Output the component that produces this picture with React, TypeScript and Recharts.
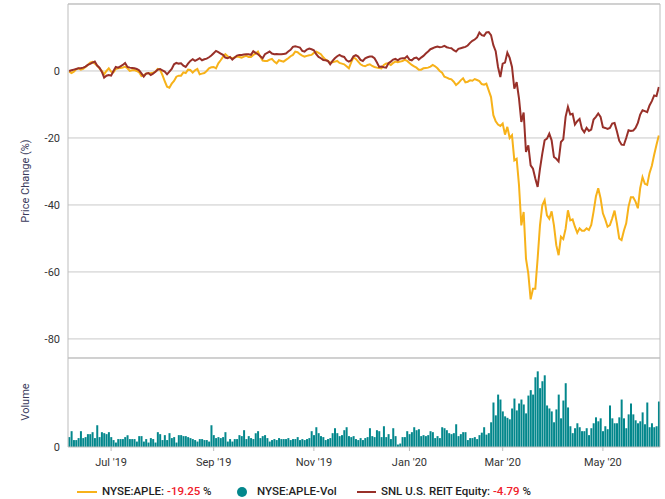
import React from "react"
import { ComposedChart, Line, Bar, XAxis, YAxis, CartesianGrid, ReferenceLine } from "recharts"

// US market holidays inside the window (trading-day calendar)
const HOLIDAYS = [
  "2019-07-04", "2019-09-02", "2019-11-28", "2019-12-25",
  "2020-01-01", "2020-01-20", "2020-02-17", "2020-04-10", "2020-05-25",
]

function tradingDays(from: string, to: string) {
  const out: string[] = []
  const end = Date.parse(to + "T00:00:00Z")
  for (let t = Date.parse(from + "T00:00:00Z"); t <= end; t += 86400000) {
    const d = new Date(t)
    const wd = d.getUTCDay()
    const iso = d.toISOString().slice(0, 10)
    if (wd === 0 || wd === 6 || HOLIDAYS.includes(iso)) continue
    out.push(iso)
  }
  return out
}

const DATES = tradingDays("2019-06-05", "2020-06-05")

// NYSE:APLE price change (%)
const APLE = [
  -0.2, -0.6, -0.2, 0.5, 0.8, 0.4, 0.6, 1.2, 1.8, 2.5,
  2.7, 2.2, 1.6, 0.8, 0, -1.0, 0, 0.8, -0.2, -0.4,
  0.6, 0.8, 0.9, 1.0, 1.3, 0.8, 0, 0.2, 0.3, 0,
  -0.4, -1.5, -1.2, -0.8, -0.7, -0.7, -0.5, -0.2, 0.6, 0.4,
  -1.2, -3.0, -4.7, -5.0, -3.8, -3.0, -1.7, -1.4, -1.4, -0.4,
  -0.6, 0.4, 0.3, -0.5, 0.2, 0.6, -1.0, -0.8, -0.6, 0,
  0.8, 1.1, 1.2, 0.8, 2.3, 3.2, 4.2, 5.0, 4.4, 4.0,
  3.8, 4.0, 4.3, 4.2, 4.0, 4.3, 4.5, 4.2, 4.2, 4.8,
  5.2, 5.8, 4.3, 3.1, 3.0, 3.0, 3.4, 3.6, 2.8, 2.3,
  3.2, 3.0, 2.8, 3.3, 3.8, 4.4, 4.8, 5.8, 5.6, 5.0,
  4.6, 4.3, 4.5, 4.7, 4.8, 5.4, 5.8, 5.4, 5.0, 4.1,
  3.4, 3.0, 2.5, 2.6, 2.8, 3.0, 2.4, 2.2, 2.0, 1.4,
  0.8, 2.6, 4.1, 3.6, 2.8, 2.0, 1.6, 1.4, 1.8, 2.0,
  1.5, 1.2, 1.0, 0.9, 0.8, 1.8, 2.2, 2.2, 1.8, 2.4,
  2.8, 2.6, 2.8, 3.0, 3.3, 3.0, 2.4, 1.8, 1.4, 1.0,
  0.4, 0.4, 0.8, 0.9, 1.0, 1.3, 1.8, 1.4, 0.8, 0,
  -0.5, -1.7, -2.0, -2.3, -2.5, -3.2, -4.2, -3.6, -2.8, -2.2,
  -3.4, -3.2, -2.8, -2.9, -2.4, -2.7, -3.0, -3.9, -4.1, -3.8,
  -5.8, -7.8, -13.2, -15.0, -16.0, -16.4, -15.7, -19.0, -16.7, -20.0,
  -19.2, -26.7, -26.2, -34.1, -46.1, -42.1, -56.0, -60.5, -68.2, -65.0,
  -65.0, -56.0, -46.1, -40.1, -38.6, -43.1, -44.1, -41.9, -46.1, -52.0,
  -55.0, -49.5, -50.2, -47.1, -41.6, -44.6, -44.3, -46.5, -48.3, -47.0,
  -47.7, -47.7, -47.0, -47.5, -46.0, -42.0, -37.5, -35.0, -38.0, -42.5,
  -44.3, -46.5, -46.0, -44.0, -41.7, -45.5, -50.0, -50.5, -47.7, -45.5,
  -40.5, -37.7, -37.7, -39.0, -41.0, -35.0, -31.7, -33.7, -34.0, -30.5,
  -28.3, -25.0, -22.0, -19.25,
]

// SNL U.S. REIT Equity price change (%)
const REIT = [
  0, 0.2, 0.4, 0.6, 0.8, 0.8, 1.0, 1.3, 1.8, 2.1,
  2.5, 2.8, 1.6, 1.0, -0.2, -2.0, -1.4, -1.2, -1.4, 0,
  1.2, 1.0, 1.4, 1.8, 2.4, 1.2, 1.0, 0.9, 0.8, 0.6,
  0.2, -0.7, -1.7, -0.8, -0.6, -1.2, -0.8, -0.2, 0.4, 0.6,
  0.2, -0.2, -1.0, -0.2, 0.6, 2.0, 2.4, 2.2, 2.3, 1.6,
  1.2, 2.2, 3.0, 3.5, 3.0, 3.4, 3.8, 3.2, 3.5, 3.7,
  4.1, 4.6, 5.3, 6.0, 5.6, 5.2, 4.8, 4.0, 3.8, 4.2,
  3.4, 4.0, 4.6, 4.8, 4.8, 4.9, 5.0, 5.0, 4.8, 5.9,
  5.4, 5.0, 4.4, 3.8, 5.0, 5.4, 5.8, 5.2, 5.0, 5.1,
  5.0, 5.0, 5.1, 5.2, 5.8, 6.3, 7.2, 7.4, 7.2, 7.0,
  6.0, 5.8, 6.4, 6.7, 6.5, 6.2, 5.0, 4.2, 3.8, 3.3,
  3.2, 3.0, 2.0, 3.0, 3.8, 4.4, 4.8, 4.4, 4.2, 3.2,
  2.8, 3.2, 4.4, 4.7, 4.3, 3.3, 3.0, 3.8, 4.1, 4.3,
  4.3, 3.8, 2.6, 1.2, 1.3, 1.1, 1.0, 2.3, 2.8, 3.4,
  3.6, 3.2, 3.7, 3.8, 3.8, 4.4, 3.4, 3.2, 3.8, 4.0,
  3.4, 4.0, 4.5, 5.2, 5.8, 6.5, 6.8, 7.1, 7.3, 7.1,
  7.2, 7.5, 7.1, 6.9, 6.8, 6.2, 5.8, 6.6, 6.8, 7.0,
  7.2, 7.6, 8.4, 9.0, 9.4, 10.0, 11.5, 10.7, 10.5, 11.5,
  11.6, 10.7, 7.7, 5.9, 1.2, -1.8, 2.2, 2.5, 5.5, 3.9,
  1.2, -5.3, -3.3, -8.2, -15.2, -12.4, -24.2, -22.2, -28.2, -29.2,
  -32.1, -34.6, -29.2, -24.7, -20.7, -20.2, -18.7, -20.7, -25.7, -26.2,
  -27.0, -21.2, -20.4, -13.7, -10.7, -13.0, -12.8, -16.0, -15.0, -14.3,
  -17.3, -18.3, -17.0, -17.9, -17.5, -14.5, -13.7, -12.7, -13.7, -16.8,
  -17.0, -17.3, -17.0, -15.7, -15.5, -18.0, -20.8, -22.0, -22.1, -20.0,
  -17.7, -17.9, -17.8, -17.0, -15.5, -13.0, -11.7, -12.0, -12.3, -10.3,
  -9.0, -7.3, -7.5, -4.79,
]

// NYSE:APLE daily volume (millions of shares)
const APLE_VOL = [
  2.0, 3.2, 1.4, 1.4, 1.8, 3.2, 1.8, 2.0, 2.6, 2.6,
  3.0, 1.8, 4.4, 2.0, 3.0, 2.8, 2.6, 3.0, 2.0, 1.4,
  0.9, 1.6, 1.6, 1.6, 2.0, 2.4, 1.6, 1.6, 1.6, 1.1,
  2.2, 2.2, 1.1, 1.6, 0.9, 1.8, 1.6, 0.9, 3.0, 2.6,
  1.4, 2.4, 1.4, 2.8, 1.8, 2.0, 0.9, 2.4, 2.4, 2.2,
  2.2, 2.0, 1.8, 1.6, 1.4, 1.1, 1.6, 1.6, 1.4, 1.4,
  1.1, 4.4, 2.4, 1.8, 2.0, 1.8, 2.0, 3.0, 1.1, 1.6,
  1.1, 1.6, 1.6, 2.4, 2.2, 3.4, 1.6, 2.2, 1.8, 1.6,
  2.8, 3.2, 1.8, 2.2, 2.4, 1.8, 1.1, 1.4, 1.6, 1.4,
  1.8, 1.6, 1.6, 1.6, 1.8, 1.4, 1.6, 1.6, 2.0, 1.4,
  1.6, 1.4, 1.6, 1.8, 3.2, 2.4, 4.0, 2.8, 2.2, 2.0,
  1.4, 1.6, 1.8, 2.8, 3.8, 2.8, 2.2, 2.4, 3.4, 4.0,
  2.2, 2.0, 2.2, 1.6, 1.4, 1.8, 1.4, 1.8, 2.0, 3.8,
  2.2, 2.0, 3.4, 3.2, 2.0, 4.2, 2.0, 2.6, 1.6, 3.8,
  2.2, 0.5, 0.7, 2.0, 2.0, 3.2, 2.6, 3.0, 4.0, 3.4,
  3.6, 2.2, 2.4, 2.2, 2.4, 3.2, 3.0, 1.8, 2.2, 1.8,
  4.0, 3.8, 3.4, 2.8, 2.6, 2.8, 4.6, 2.2, 2.6, 3.0,
  3.0, 1.4, 1.8, 1.8, 2.0, 1.6, 2.4, 2.9, 4.0, 2.5,
  2.8, 5.0, 9.0, 6.4, 10.6, 9.6, 7.2, 6.2, 5.9, 5.6,
  7.8, 9.8, 7.4, 8.8, 9.6, 8.6, 6.8, 10.4, 11.5, 10.6,
  14.1, 15.3, 11.9, 13.3, 14.5, 8.4, 7.8, 7.2, 5.0, 7.6,
  10.6, 5.8, 9.4, 12.9, 8.0, 4.2, 2.8, 3.8, 4.8, 4.0,
  3.2, 3.2, 3.8, 2.4, 3.8, 4.8, 6.0, 5.2, 5.8, 3.2,
  4.2, 3.6, 8.4, 5.8, 4.8, 4.8, 6.0, 9.6, 5.8, 3.8,
  6.6, 8.8, 6.6, 5.4, 4.8, 5.2, 7.0, 4.6, 9.0, 4.0,
  4.8, 4.0, 4.2, 9.2,
]

const MONTH_TICKS = ["2019-07-01", "2019-09-03", "2019-11-01", "2020-01-02", "2020-03-02", "2020-05-01"]
const PRICE_TICKS = [-80, -60, -40, -20, 0]
const MONTHS = ["Jan", "Feb", "Mar", "Apr", "May", "Jun", "Jul", "Aug", "Sep", "Oct", "Nov", "Dec"]

const YELLOW = "#f7b21a"
const MAROON = "#983029"
const TEAL = "#03878c"
const AXIS = "#bdbdbd"
const FONT = "Roboto, 'Liberation Sans', sans-serif"

const data = DATES.map((date, i) => ({ date, aple: APLE[i], reit: REIT[i], vol: APLE_VOL[i] }))

const fmtMonth = (iso: string) => `${MONTHS[Number(iso.slice(5, 7)) - 1]} '${iso.slice(2, 4)}`

const axisTitle = (text: string, cy: number) => () => (
  <text x={25} y={cy} transform={`rotate(-90, 25, ${cy})`} textAnchor="middle" dominantBaseline="central"
    fill="#3a3a5c" fontSize={11} fontFamily={FONT}>
    {text}
  </text>
)

export default function App() {
  return (
    <div style={{ position: "absolute", left: 0, top: 0, width: 665, height: 499, background: "#fff", fontFamily: FONT }}>
      <div style={{ position: "absolute", left: 0, top: 0 }}>
        <ComposedChart width={665} height={360} data={data} margin={{ top: 4, right: 4, bottom: 0, left: 0 }}>
          <CartesianGrid vertical={false} stroke="#c9c9c9" />
          <XAxis dataKey="date" scale="band" tick={false} tickLine={false} axisLine={{ stroke: AXIS }} height={2} />
          <YAxis
            domain={[-85.7, 20]}
            ticks={PRICE_TICKS}
            allowDataOverflow
            width={68}
            tickLine={false}
            axisLine={{ stroke: AXIS }}
            tick={{ fill: "#333", fontSize: 11, fontFamily: FONT }}
            label={axisTitle("Price Change (%)", 181)}
          />
          <YAxis yAxisId="r" orientation="right" width={1} tick={false} tickLine={false} axisLine={{ stroke: AXIS }} />
          <ReferenceLine y={20} stroke={AXIS} />
          <Line dataKey="aple" stroke={YELLOW} strokeWidth={2} dot={false} isAnimationActive={false} />
          <Line dataKey="reit" stroke={MAROON} strokeWidth={2} dot={false} isAnimationActive={false} />
        </ComposedChart>
      </div>
      <div style={{ position: "absolute", left: 0, top: 358 }}>
        <ComposedChart width={665} height={120} data={data} margin={{ top: 0, right: 4, bottom: 0, left: 0 }} barCategoryGap="12%">
          <XAxis
            dataKey="date"
            scale="band"
            ticks={MONTH_TICKS}
            interval={0}
            tickFormatter={fmtMonth}
            tickSize={4}
            tickMargin={7}
            tickLine={{ stroke: AXIS }}
            axisLine={{ stroke: AXIS }}
            tick={{ fill: "#333", fontSize: 11, fontFamily: FONT }}
            height={31}
          />
          <YAxis
            domain={[0, 18]}
            ticks={[0]}
            allowDataOverflow
            width={68}
            tickLine={false}
            axisLine={{ stroke: AXIS }}
            tick={{ fill: "#333", fontSize: 11, fontFamily: FONT }}
            label={axisTitle("Volume", 44)}
          />
          <YAxis yAxisId="r" orientation="right" width={1} tick={false} tickLine={false} axisLine={{ stroke: AXIS }} />
          <Bar dataKey="vol" fill={TEAL} isAnimationActive={false} />
        </ComposedChart>
      </div>
      <div style={{ position: "absolute", left: 0, top: 483, height: 18, width: 665, fontSize: 11.5, fontWeight: 500, color: "#1f1f1f" }}>
        <span style={{ position: "absolute", left: 77, top: 8, width: 20, height: 2, background: YELLOW }} />
        <span style={{ position: "absolute", left: 102, top: 1, whiteSpace: "nowrap" }}>
          NYSE:APLE: <span style={{ color: "#f0212b" }}>-19.25</span> %
        </span>
        <span style={{ position: "absolute", left: 237, top: 4, width: 10, height: 10, borderRadius: "50%", background: TEAL }} />
        <span style={{ position: "absolute", left: 257, top: 1, whiteSpace: "nowrap" }}>NYSE:APLE-Vol</span>
        <span style={{ position: "absolute", left: 357, top: 8, width: 19, height: 2, background: MAROON }} />
        <span style={{ position: "absolute", left: 381, top: 1, whiteSpace: "nowrap" }}>
          SNL U.S. REIT Equity: <span style={{ color: "#f0212b" }}>-4.79</span> %
        </span>
      </div>
    </div>
  )
}
